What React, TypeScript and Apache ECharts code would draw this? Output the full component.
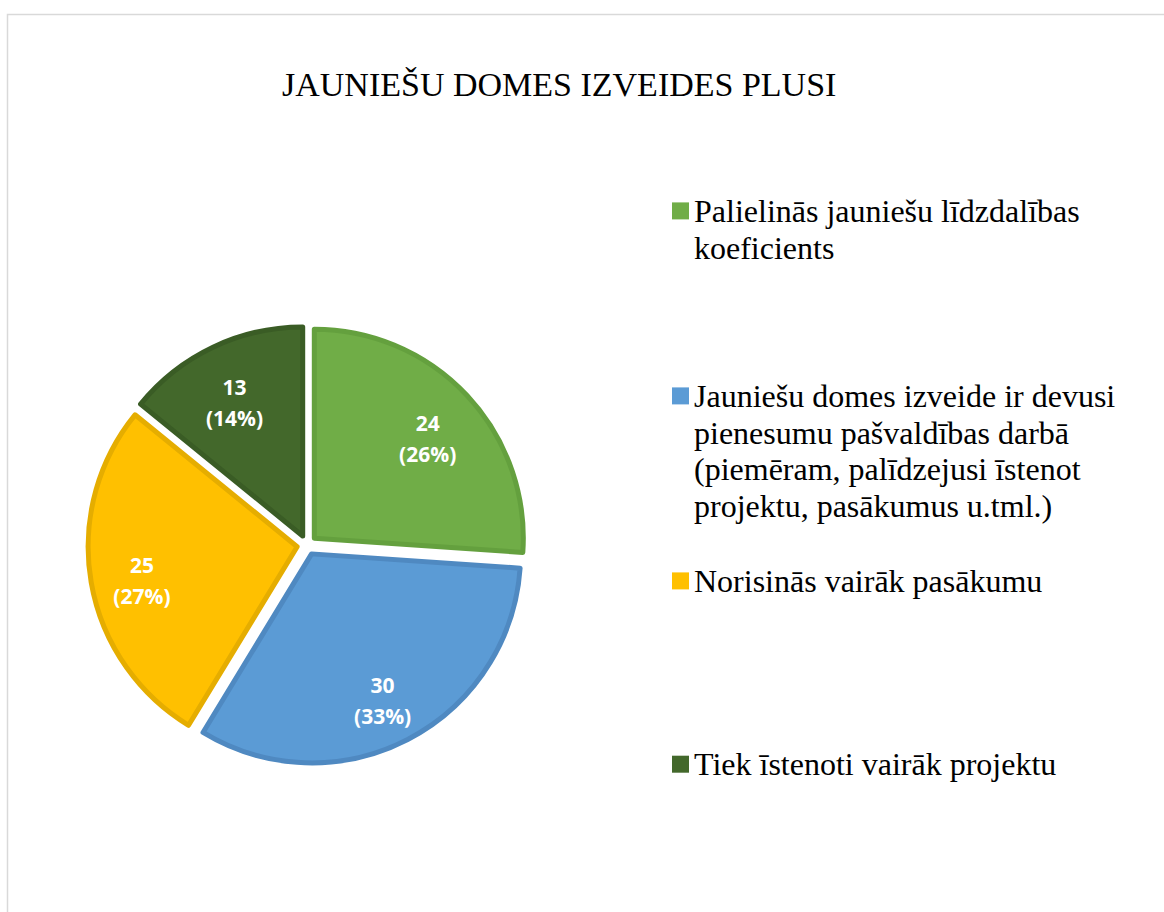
import React, { useEffect, useRef } from "react";
import * as echarts from "echarts";

const titleText = "JAUNIEŠU DOMES IZVEIDES PLUSI";
const categories = [
  "Palielinās jauniešu līdzdalības koeficients",
  "Jauniešu domes izveide ir devusi pienesumu pašvaldības darbā (piemēram, palīdzejusi īstenot projektu, pasākumus u.tml.)",
  "Norisinās vairāk pasākumu",
  "Tiek īstenoti vairāk projektu",
];
const legendLines = [
  ["Palielinās jauniešu līdzdalības", "koeficients"],
  [
    "Jauniešu domes izveide ir devusi",
    "pienesumu pašvaldības darbā",
    "(piemēram, palīdzejusi īstenot",
    "projektu, pasākumus u.tml.)",
  ],
  ["Norisinās vairāk pasākumu"],
  ["Tiek īstenoti vairāk projektu"],
];
const values = [24, 30, 25, 13];
const fills = ["#70AD47", "#5B9BD5", "#FFC000", "#43682B"];
const borders = ["#64A03E", "#4F89C1", "#E5AD00", "#3A5C25"];

// layout (first-line centers of each legend entry)
const legendFirstLineCenters = [210.9, 395.9, 580.9, 764.2];
const LH = 36.7;

export default function App() {
  const ref = useRef<HTMLDivElement>(null);
  useEffect(() => {
    if (!ref.current) return;
    const chart = echarts.init(ref.current, undefined, { renderer: "svg" });
    const serif = "'Liberation Serif', 'Times New Roman', serif";

    const legends = categories.map((name, i) => {
      const n = legendLines[i].length;
      // blank lines above so that the first real line sits at the icon's centre
      const blank = new Array(n - 1).fill("");
      return {
        data: [name],
        left: 672,
        top: legendFirstLineCenters[i] - ((2 * n - 1) * LH) / 2,
        orient: "vertical",
        padding: 0,
        icon: "rect",
        itemWidth: 17,
        itemHeight: 17,
        selectedMode: false,
        itemStyle: { borderWidth: 0 },
        formatter: () => blank.concat(legendLines[i]).join("\n"),
        textStyle: {
          fontFamily: serif,
          fontSize: 32,
          lineHeight: LH,
          color: "#000",
        },
      };
    });

    const mainData = categories.map((name, i) => ({
      name,
      value: values[i],
      selected: true,
      itemStyle: { color: fills[i], borderColor: borders[i], borderWidth: 5 },
      select: { itemStyle: { color: fills[i], borderColor: borders[i], borderWidth: 5 } },
    }));
    const labelData = categories.map((name, i) => ({
      name,
      value: values[i],
      selected: true,
    }));

    chart.setOption({
      animation: false,
      title: {
        text: titleText,
        left: 282,
        top: 67,
        padding: 0,
        textStyle: {
          fontFamily: serif,
          fontSize: 34,
          fontWeight: "normal",
          color: "#000",
        },
      },
      legend: legends,
      graphic: [
        {
          type: "rect",
          shape: { x: 7.5, y: 14.5, width: 1300, height: 1000 },
          style: { fill: "none", stroke: "#d9d9d9", lineWidth: 1.5 },
          silent: true,
        },
      ],
      series: [
        {
          type: "pie",
          center: [307, 545],
          radius: 209,
          startAngle: 90,
          clockwise: true,
          selectedMode: "multiple",
          selectedOffset: 10,
          percentPrecision: 0,
          label: { show: false },
          labelLine: { show: false },
          emphasis: { disabled: true },
          silent: true,
          data: mainData,
        },
        {
          // transparent companion pie that only places the value labels
          type: "pie",
          center: [306, 552.5],
          radius: 307,
          startAngle: 90,
          clockwise: true,
          selectedMode: "multiple",
          selectedOffset: 10,
          percentPrecision: 0,
          silent: true,
          emphasis: { disabled: true },
          itemStyle: { color: "rgba(0,0,0,0)", borderWidth: 0 },
          select: { itemStyle: { color: "rgba(0,0,0,0)", borderWidth: 0 } },
          labelLine: { show: false },
          label: {
            show: true,
            position: "inside",
            formatter: "{c}\n({d}%)",
            fontFamily: "'Open Sans', sans-serif",
            fontWeight: "bold",
            fontSize: 21,
            lineHeight: 31,
            color: "#fff",
          },
          data: labelData,
        },
      ],
    });
    return () => chart.dispose();
  }, []);
  return (
    <div
      ref={ref}
      style={{ position: "fixed", left: 0, top: 0, width: 1164, height: 912, background: "#fff" }}
    />
  );
}
